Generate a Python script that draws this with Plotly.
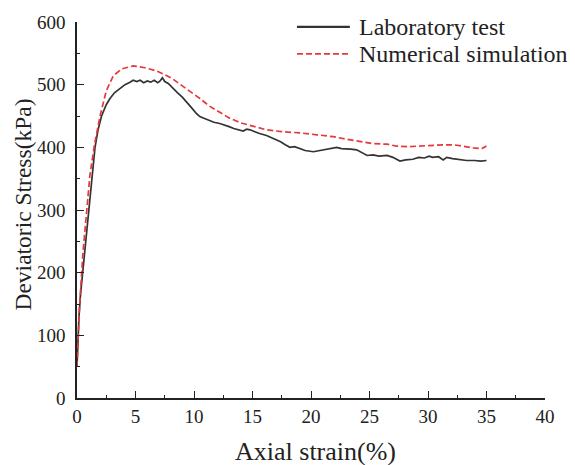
import plotly.graph_objects as go

# Laboratory triaxial test: axial strain (%) vs deviatoric stress (kPa)
lab_strain = [0, 0.05, 0.1, 0.17, 0.3, 0.49, 0.7, 1.03, 1.3, 1.54, 1.8, 2.1, 2.5, 2.82,
              3.2, 3.68, 4.1, 4.53, 4.8, 5.1, 5.4, 5.7, 6.0, 6.3, 6.6, 6.9, 7.1, 7.3,
              7.5, 7.8, 8.2, 8.6, 9.0, 9.4, 9.8, 10.2, 10.5, 10.9, 11.3, 11.7, 12.2,
              12.6, 13.0, 13.4, 13.8, 14.2, 14.5, 14.8, 15.2, 15.6, 16.2, 16.6, 17.0,
              17.4, 17.8, 18.2, 18.6, 19.0, 19.5, 20.2, 20.7, 21.2, 21.7, 22.2, 22.6,
              23.0, 23.4, 23.9, 24.4, 24.8, 25.3, 25.8, 26.5, 27.0, 27.6, 28.1, 28.7,
              29.2, 29.7, 30.1, 30.4, 30.9, 31.3, 31.6, 32.1, 32.7, 33.3, 34.0, 34.5, 35.0]
lab_stress = [50, 80, 105, 130, 165, 200, 245, 300, 360, 400, 428, 450, 468, 478,
              487, 494, 500, 504, 507, 505, 507, 503, 506, 504, 507, 503, 506, 511,
              505, 502, 494, 487, 480, 472, 463, 454, 449, 446, 443, 440, 438,
              436, 433, 430, 428, 426, 429, 428, 425, 422, 419, 416, 412,
              409, 404, 400, 401, 398, 395, 393, 395, 397, 398, 400, 398,
              398, 397, 396, 391, 387, 388, 386, 387, 384, 378, 380, 381,
              384, 383, 386, 384, 385, 380, 384, 382, 380, 379, 379, 378, 379]

# Numerical simulation result
sim_strain = [0, 0.2, 0.5, 0.8, 1.1, 1.5, 1.97, 2.5, 3.1, 3.8, 4.8, 5.8, 6.8, 7.5, 8.2,
              9.0, 10.0, 10.5, 11.3, 12.2, 13.0, 14.0, 14.8, 15.5, 16.2, 17.5, 19.1,
              20.5, 21.9, 23.0, 24.2, 25.3, 26.5, 27.3, 28.2, 29.3, 30.4, 31.3, 32.2,
              33.1, 33.9, 34.6, 35.0]
sim_stress = [50, 140, 230, 300, 355, 405, 450, 490, 514, 525, 530, 527, 522, 516, 509,
              498, 485, 478, 466, 456, 447, 439, 435, 431, 428, 425, 423,
              420, 417, 413, 409, 406, 405, 402, 401, 402, 404, 404, 404,
              401, 399, 398, 402]

series_names = ["Laboratory test", "Numerical simulation"]
x_ticks = [0, 5, 10, 15, 20, 25, 30, 35, 40]
y_ticks = [0, 100, 200, 300, 400, 500, 600]

FONT = "Liberation Serif"
INK = "#222222"
lab_line = dict(color="#333333", width=1.7)
sim_line = dict(color="#e8383a", width=1.7, dash="6px,3px")

fig = go.Figure()
fig.add_trace(go.Scatter(x=lab_strain, y=lab_stress, mode="lines",
                         name=series_names[0], line=lab_line, showlegend=False))
fig.add_trace(go.Scatter(x=sim_strain, y=sim_stress, mode="lines",
                         name=series_names[1], line=sim_line, showlegend=False))

axis_common = dict(showline=True, linecolor=INK, linewidth=1.5,
                   showgrid=False, zeroline=False, mirror=False,
                   ticks="inside", ticklen=7, tickwidth=1.3, tickcolor=INK,
                   tickfont=dict(family=FONT, size=19, color=INK))

fig.update_xaxes(range=[0, 40], tickvals=x_ticks, ticklabelstandoff=0,
                 minor=dict(ticks="inside", ticklen=3, tickwidth=1.2,
                            tickcolor=INK, dtick=2.5, showgrid=False),
                 **axis_common)
fig.update_yaxes(range=[0, 600], tickvals=y_ticks, ticklabelstandoff=6,
                 minor=dict(ticks="inside", ticklen=3, tickwidth=1.2,
                            tickcolor=INK, dtick=50, showgrid=False),
                 **axis_common)

# Key drawn in the upper right: a line sample and a label per series
key_rows_y = [0.987, 0.915]
key_line_x = (0.470, 0.583)
key_text_x = 0.598
shapes = []
annotations = []
for name, style, ky in zip(series_names, [lab_line, sim_line], key_rows_y):
    shapes.append(dict(type="line", xref="paper", yref="paper",
                       x0=key_line_x[0], x1=key_line_x[1], y0=ky, y1=ky,
                       line=dict(color=style["color"], width=2.2 if "dash" not in style else 1.8,
                                 dash=style.get("dash", "solid"))))
    annotations.append(dict(text=name, xref="paper", yref="paper",
                            x=key_text_x, y=ky, xanchor="left", yanchor="middle",
                            showarrow=False,
                            font=dict(family=FONT, size=24, color=INK)))

annotations += [
    dict(text="Axial strain(%)", xref="paper", yref="paper",
         x=0.509, y=-0.143, xanchor="center", yanchor="middle",
         showarrow=False, font=dict(family=FONT, size=26, color=INK)),
    dict(text="Deviatoric Stress(kPa)", xref="paper", yref="paper",
         x=-0.115, y=0.515, xanchor="center", yanchor="middle", textangle=-90,
         showarrow=False, font=dict(family=FONT, size=23.5, color=INK)),
]

fig.update_layout(
    width=575, height=465,
    margin=dict(l=77, r=30, t=19, b=67),
    plot_bgcolor="white", paper_bgcolor="white",
    showlegend=False,
    shapes=shapes,
    annotations=annotations,
)

fig.write_html("out.html")
